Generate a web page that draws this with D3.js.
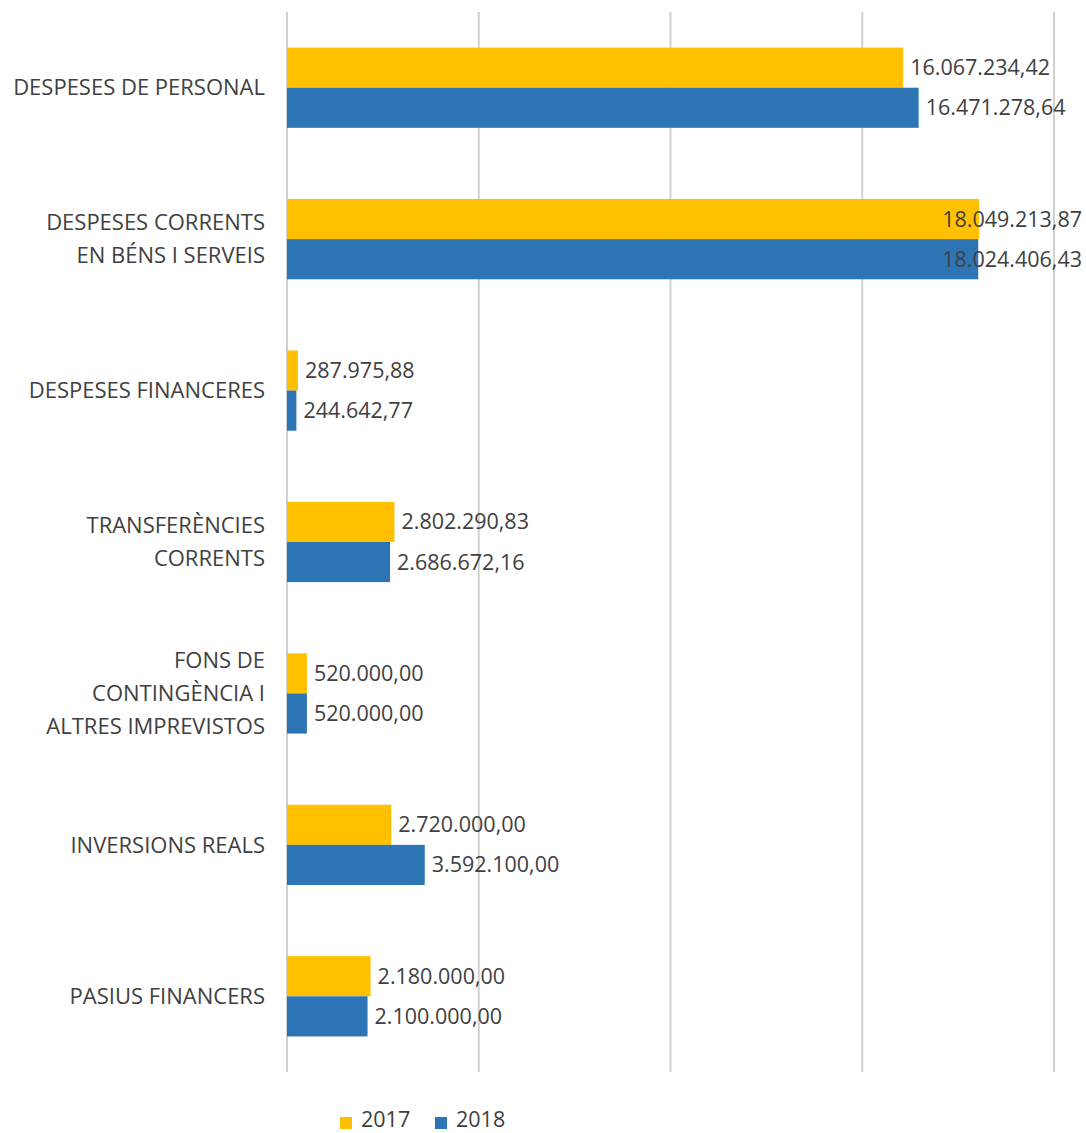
<!DOCTYPE html>
<html><head><meta charset="utf-8">
<script src="https://cdn.jsdelivr.net/npm/d3@7"></script>
<style>body{margin:0;background:#fff}svg{display:block}</style>
</head><body>
<script>
const categories = [
  ["DESPESES DE PERSONAL"],
  ["DESPESES CORRENTS", "EN BÉNS I SERVEIS"],
  ["DESPESES FINANCERES"],
  ["TRANSFERÈNCIES", "CORRENTS"],
  ["FONS DE", "CONTINGÈNCIA I", "ALTRES IMPREVISTOS"],
  ["INVERSIONS REALS"],
  ["PASIUS FINANCERS"]
];
const series = ["2017", "2018"];
const values2017 = [16067234.42, 18049213.87, 287975.88, 2802290.83, 520000.00, 2720000.00, 2180000.00];
const values2018 = [16471278.64, 18024406.43, 244642.77, 2686672.16, 520000.00, 3592100.00, 2100000.00];
const ticks = [0, 5000000, 10000000, 15000000, 20000000];
const colors = ["#FFC000", "#2E75B6"];

const W = 1086, H = 1133;
const svg = d3.select("body").append("svg").attr("width", W).attr("height", H);
const x = d3.scaleLinear().domain([0, 20000000]).range([287, 1054]);
const y = d3.scaleBand().domain(d3.range(categories.length)).range([12, 1072]).paddingInner(0.47).paddingOuter(0.235);
const ys = d3.scaleBand().domain(series).range([0, y.bandwidth()]);
const font = "'Open Sans', sans-serif";
const txt = "#404040";
const fs = 21.5;

// gridlines
svg.append("g").selectAll("line").data(ticks).join("line")
  .attr("x1", d => x(d)).attr("x2", d => x(d))
  .attr("y1", 12).attr("y2", 1072)
  .attr("stroke", "#d0d0d0").attr("stroke-width", 2);

const fmt = v => {
  const s = v.toFixed(2).split(".");
  return s[0].replace(/\B(?=(\d{3})+(?!\d))/g, ".") + "," + s[1];
};

const data = [];
categories.forEach((c, i) => {
  data.push({i, s: "2017", v: values2017[i], c: colors[0]});
  data.push({i, s: "2018", v: values2018[i], c: colors[1]});
});

svg.append("g").selectAll("rect").data(data).join("rect")
  .attr("x", x(0)).attr("y", d => y(d.i) + ys(d.s))
  .attr("width", d => x(d.v) - x(0)).attr("height", ys.bandwidth())
  .attr("fill", d => d.c);

const lbl = svg.append("g").selectAll("text").data(data).join("text")
  .attr("y", d => y(d.i) + ys(d.s) + ys.bandwidth() / 2)
  .attr("dy", "0.35em")
  .attr("font-family", font).attr("font-size", fs).attr("fill", txt)
  .text(d => fmt(d.v))
  .attr("x", d => x(d.v) + 7);
lbl.each(function() {
  const t = d3.select(this);
  const w = this.getComputedTextLength();
  const xx = +t.attr("x");
  if (xx + w > 1082) t.attr("x", 1082 - w);
});

// category labels
categories.forEach((lines, i) => {
  const cy = y(i) + y.bandwidth() / 2;
  const lh = 33;
  const t = svg.append("text").attr("text-anchor", "end")
    .attr("font-family", font).attr("font-size", 22).attr("fill", txt);
  lines.forEach((l, k) => {
    t.append("tspan").attr("x", 265)
      .attr("y", cy + (k - (lines.length - 1) / 2) * lh)
      .attr("dy", "0.35em").text(l);
  });
});

// legend
const lg = svg.append("g");
const lx = [340, 435];
series.forEach((s, k) => {
  lg.append("rect").attr("x", lx[k]).attr("y", 1117).attr("width", 12).attr("height", 12).attr("fill", colors[k]);
  lg.append("text").attr("x", lx[k] + 21).attr("y", 1119).attr("dy", "0.35em")
    .attr("font-family", font).attr("font-size", fs).attr("fill", txt).text(s);
});
</script>
</body></html>
